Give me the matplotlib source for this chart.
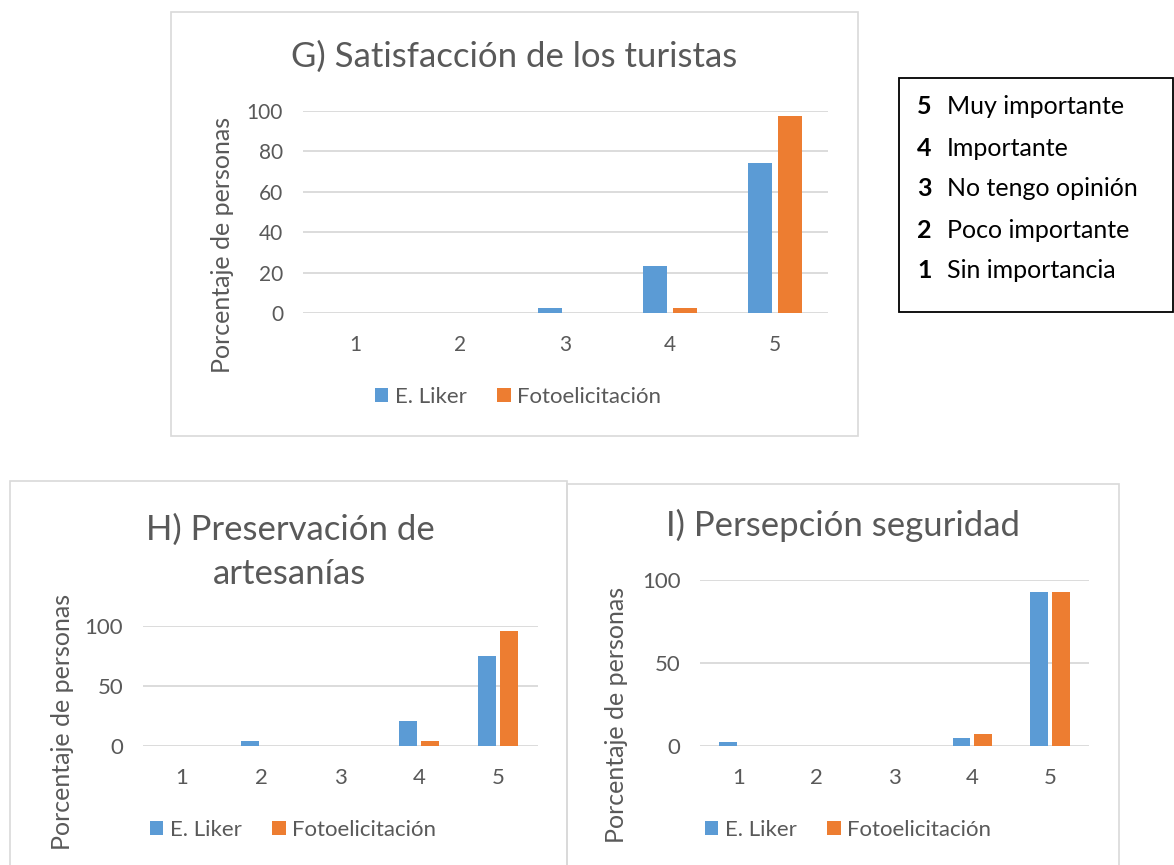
import numpy as np
import matplotlib
matplotlib.use("Agg")
import matplotlib.pyplot as plt
from matplotlib.patches import Rectangle

plt.rcParams['font.family'] = ['Lato', 'DejaVu Sans']

# Likert scale categories
categories = [1, 2, 3, 4, 5]
series_names = ["E. Liker", "Fotoelicitación"]

# G) Satisfacción de los turistas (% de personas)
g_liker = [0, 0, 2.3, 23.3, 74.4]
g_foto = [0, 0, 0, 2.3, 97.7]

# H) Preservación de artesanías
h_liker = [0, 4.2, 0, 20.8, 75.0]
h_foto = [0, 0, 0, 4.2, 95.8]

# I) Persepción seguridad
i_liker = [2.3, 0, 0, 4.7, 93.0]
i_foto = [0, 0, 0, 7.0, 93.0]

scale_labels = [("5", "Muy importante"), ("4", "Importante"),
                ("3", "No tengo opinión"), ("2", "Poco importante"),
                ("1", "Sin importancia")]

BLUE = "#5B9BD5"
ORANGE = "#ED7D31"
GRID = "#D9D9D9"
TEXT = "#595959"

W, H = 1174, 865
fig = plt.figure(figsize=(W / 100, H / 100), dpi=100)


def fx(x):
    return x / W


def fy(y):
    return 1 - y / H


def px_axes(x0, y0, x1, y1):
    return fig.add_axes([fx(x0), fy(y1), (x1 - x0) / W, (y1 - y0) / H])


def px_box(x0, y0, x1, y1, color, lw):
    fig.patches.append(Rectangle((fx(x0), fy(y1)), (x1 - x0) / W,
                                 (y1 - y0) / H, transform=fig.transFigure,
                                 fill=False, edgecolor=color, linewidth=lw))


def bar_chart(rect, liker, foto, yticks, tick_fs, title, title_xy,
              ylabel_xy, legend_xy):
    ax = px_axes(*rect)
    x = np.array(categories)
    w = 0.225
    b1 = ax.bar(x - 0.14, liker, w, color=BLUE, label=series_names[0], zorder=3)
    b2 = ax.bar(x + 0.14, foto, w, color=ORANGE, label=series_names[1], zorder=3)
    ax.set_xlim(0.5, 5.5)
    ax.set_ylim(0, yticks[-1])
    ax.set_yticks(yticks)
    ax.set_xticks(x)
    ax.grid(axis='y', color=GRID, linewidth=1.3, zorder=0)
    for s in ax.spines.values():
        s.set_visible(False)
    ax.tick_params(length=0, labelsize=tick_fs, labelcolor=TEXT)
    ax.tick_params(axis='y', pad=14)
    ax.tick_params(axis='x', pad=16)
    fig.text(fx(ylabel_xy[0]), fy(ylabel_xy[1]), "Porcentaje de personas",
             fontsize=18, color=TEXT, rotation=90, ha='center', va='center')
    fig.text(fx(title_xy[0]), fy(title_xy[1]), title, fontsize=25,
             color=TEXT, ha='center', va='center', linespacing=1.45)
    fig.legend(handles=[b1, b2], loc='center', ncol=2, frameon=False,
               bbox_to_anchor=(fx(legend_xy[0]), fy(legend_xy[1])),
               fontsize=16, labelcolor=TEXT, handlelength=0.6,
               handleheight=0.6, handletextpad=0.3, columnspacing=1.4)
    return ax


axg = bar_chart((302.5, 111, 827.5, 313), g_liker, g_foto,
                [0, 20, 40, 60, 80, 100], 15,
                "G) Satisfacción de los turistas", (514, 57), (222, 245),
                (518, 397))
axh = bar_chart((142.5, 626, 537.5, 746), h_liker, h_foto,
                [0, 50, 100], 16,
                "H) Preservación de\nartesanías", (290, 552), (62, 722),
                (293, 830))
axi = bar_chart((700, 580, 1089, 746), i_liker, i_foto,
                [0, 50, 100], 16,
                "I) Persepción seguridad", (843, 525), (617, 715),
                (848, 830))

# chart frames
px_box(171, 12, 858, 436, GRID, 1.2)
px_box(10, 481, 567, 870, GRID, 1.2)
px_box(567, 484, 1119, 870, GRID, 1.2)

# scale key
px_box(899, 78, 1173, 312, "black", 1.3)
for k, (num, txt) in enumerate(scale_labels):
    y = fy(107 + k * 41)
    fig.text(fx(917), y, num, fontsize=18, fontweight='bold', color='black',
             va='center')
    fig.text(fx(947), y, txt, fontsize=18, color='black', va='center')

fig.savefig("out.png", dpi=100)
